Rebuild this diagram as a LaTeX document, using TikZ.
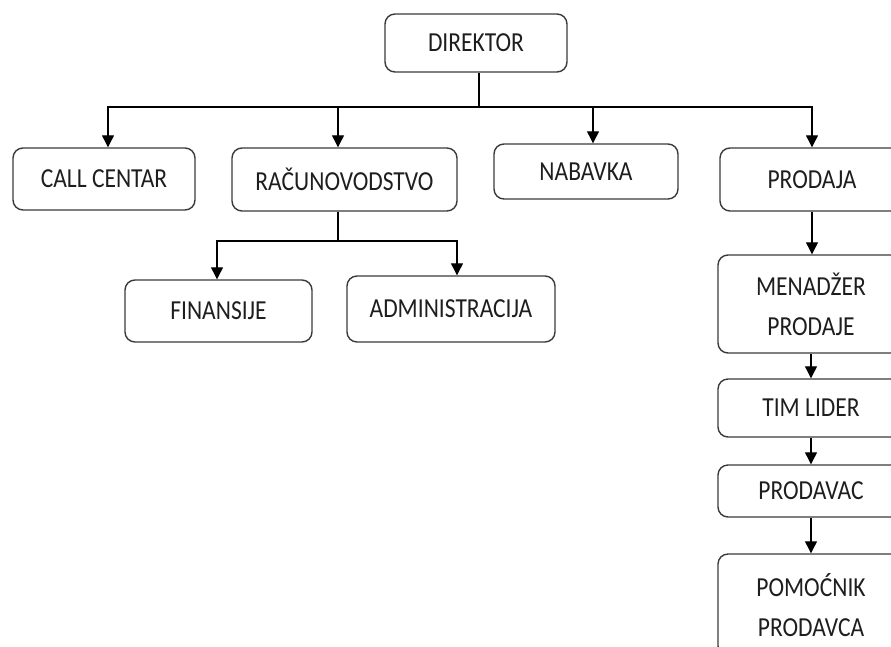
\documentclass[tikz,border=0pt]{standalone}
\usepackage{fontspec}
\setmainfont{Carlito}[FakeStretch=0.855]
\usetikzlibrary{arrows.meta}
\definecolor{boxline}{HTML}{3A3A3A}
\definecolor{ink}{HTML}{1E1E1E}
\begin{document}
\begin{tikzpicture}[x=1pt,y=-1pt,
  orgbox/.style={draw=boxline,line width=1.4pt,rounded corners=10pt,
    inner sep=0pt,align=center,text=ink,
    font=\fontsize{27.5}{40}\selectfont},
  link/.style={draw=black,line width=1.2pt},
  arr/.style={link,-{Triangle[length=12pt,width=12pt]}}]
\useasboundingbox (0,0) rectangle (891,646);
\clip (0,0) rectangle (891,646);

% top level
\node[orgbox,minimum width=182pt,minimum height=58pt] (dir) at (476,43) {DIREKTOR};

% departments
\node[orgbox,minimum width=182pt,minimum height=62pt] (call) at (104,179) {CALL CENTAR};
\node[orgbox,minimum width=225pt,minimum height=63pt] (rac) at (344.5,179.5) {RAČUNOVODSTVO};
\node[orgbox,minimum width=184pt,minimum height=55pt] (nab) at (586,171.5) {NABAVKA};
\node[orgbox,minimum width=184pt,minimum height=63pt] (prod) at (812,179.5) {PRODAJA};

% accounting sub-units
\node[orgbox,minimum width=187pt,minimum height=62pt] (fin) at (218.5,311) {FINANSIJE};
\node[orgbox,minimum width=208pt,minimum height=66pt] (adm) at (451,309) {ADMINISTRACIJA};

% sales chain
\node[orgbox,minimum width=186pt,minimum height=98pt] (men) at (811,304) {MENADŽER\\PRODAJE};
\node[orgbox,minimum width=186pt,minimum height=58pt] (tim) at (811,408) {TIM LIDER};
\node[orgbox,minimum width=186pt,minimum height=52pt] (prv) at (811,491) {PRODAVAC};
\node[orgbox,minimum width=186pt,minimum height=102pt] (pom) at (811,605) {POMOĆNIK\\PRODAVCA};

% director to departments
\coordinate (jD) at (479,107);
\draw[link] (dir.south -| jD) -- (jD);
\draw[arr] (jD) -| ([xshift=4pt]call.north);
\draw[arr] (jD) -| ([xshift=-6.5pt]rac.north);
\draw[arr] (jD) -| ([xshift=7pt]nab.north);
\draw[arr] (jD) -| (prod.north);

% accounting to its units
\coordinate (jR) at (338,241);
\draw[link] (rac.south -| jR) -- (jR);
\draw[arr] (jR) -| ([xshift=-1.5pt]fin.north);
\draw[arr] (jR) -| ([xshift=6pt]adm.north);

% sales hierarchy
\draw[arr] (prod.south) -- (prod.south |- men.north);
\draw[arr] (men.south) -- (tim.north);
\draw[arr] (tim.south) -- (prv.north);
\draw[arr] (prv.south) -- (pom.north);
\end{tikzpicture}
\end{document}
